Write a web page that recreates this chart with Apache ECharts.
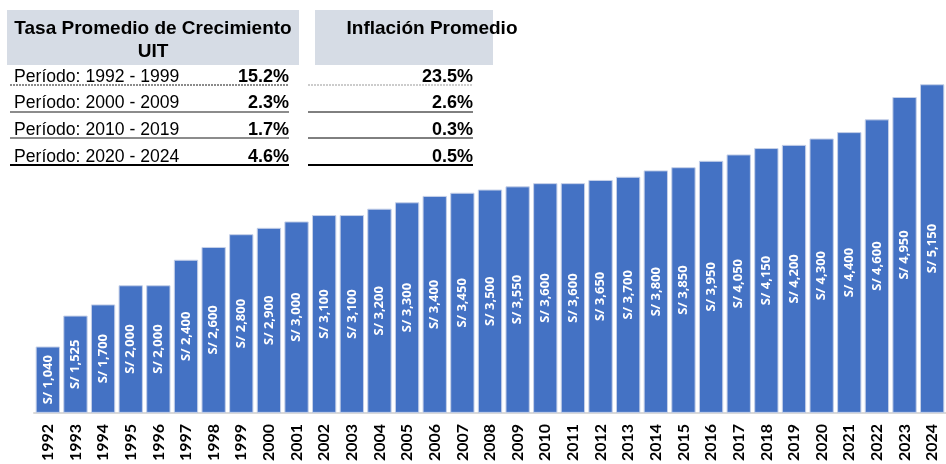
<!DOCTYPE html>
<html>
<head>
<meta charset="utf-8">
<script src="https://cdn.jsdelivr.net/npm/echarts@6/dist/echarts.min.js"></script>
<style>
html,body{margin:0;padding:0;background:#fff;}
#chart{width:946px;height:464px;}
</style>
</head>
<body>
<div id="chart"></div>
<script>
const years = ['1992','1993','1994','1995','1996','1997','1998','1999','2000','2001','2002','2003','2004','2005','2006','2007','2008','2009','2010','2011','2012','2013','2014','2015','2016','2017','2018','2019','2020','2021','2022','2023','2024'];
const uitValues = [1040,1525,1700,2000,2000,2400,2600,2800,2900,3000,3100,3100,3200,3300,3400,3450,3500,3550,3600,3600,3650,3700,3800,3850,3950,4050,4150,4200,4300,4400,4600,4950,5150];
const periods = ['Período: 1992 - 1999','Período: 2000 - 2009','Período: 2010 - 2019','Período: 2020 - 2024'];
const growthRates = ['15.2%','2.3%','1.7%','4.6%'];
const inflationRates = ['23.5%','2.6%','0.3%','0.5%'];
const header1 = ['Tasa Promedio de Crecimiento','UIT'];
const header2 = 'Inflación Promedio';

const chart = echarts.init(document.getElementById('chart'), null, {renderer:'canvas'});
const fmt = v => 'S/ ' + v.toLocaleString('en-US');
const FF = '"Liberation Sans", Arial, sans-serif';

const rowY = [77, 103, 130, 157];
const lineY = [85, 112, 138, 165];
const graphics = [];
const txt = (x, y, text, size, weight, align) => ({
  type:'text', x:x, y:y,
  style:{text:text, fontFamily:FF, fontSize:size, fontWeight:weight, fill:'#000', align:align, verticalAlign:'middle'}
});
graphics.push({type:'rect', shape:{x:7,y:10,width:292,height:55}, style:{fill:'#d6dce5'}});
graphics.push({type:'rect', shape:{x:315,y:10,width:178,height:55}, style:{fill:'#d6dce5'}});
graphics.push(txt(153, 29, header1[0], 19, 'bold', 'center'));
graphics.push(txt(153, 52, header1[1], 19, 'bold', 'center'));
graphics.push(txt(432, 29, header2, 19, 'bold', 'center'));
periods.forEach((p,i) => {
  graphics.push(txt(14, rowY[i], p, 17.6, 'normal', 'left'));
  graphics.push(txt(289, rowY[i], growthRates[i], 18, 'bold', 'right'));
  graphics.push(txt(473, rowY[i], inflationRates[i], 18, 'bold', 'right'));
  const last = i === periods.length - 1;
  const first = i === 0;
  graphics.push({type:'line', shape:{x1:10,y1:lineY[i],x2:289,y2:lineY[i]}, style:{stroke: last ? '#000' : '#666', lineWidth: last ? 2 : 1.5, lineDash: first ? [2,1] : null}});
  graphics.push({type:'line', shape:{x1:308,y1:lineY[i],x2:473,y2:lineY[i]}, style:{stroke: first ? '#999' : '#000', lineWidth: last ? 2 : 1, lineDash: first ? [2,1] : null}});
});

chart.setOption({
  animation:false,
  backgroundColor:'#ffffff',
  grid:{left:34, right:-4, top:30, bottom:49, containLabel:false},
  xAxis:{
    type:'category', data:years,
    axisLine:{show:true, lineStyle:{color:'#d9d9d9', width:2}},
    axisTick:{show:false},
    axisLabel:{rotate:90, interval:0, margin:11, fontSize:16, fontWeight:'bold', color:'#000', fontFamily:'Lato, "Open Sans", sans-serif'}
  },
  yAxis:{type:'value', min:0, max:6000, show:false, splitLine:{show:false}},
  series:[{
    type:'bar', data:uitValues, barCategoryGap:'12%',
    itemStyle:{color:'#4472C4', borderColor:'#c5d0e8', borderWidth:1},
    label:{show:true, position:'inside', rotate:90, formatter:p => fmt(p.value), color:'#fff', fontSize:13, fontWeight:'bold', fontFamily:'"Open Sans", Lato, sans-serif'}
  }],
  graphic: graphics
});
</script>
</body>
</html>
